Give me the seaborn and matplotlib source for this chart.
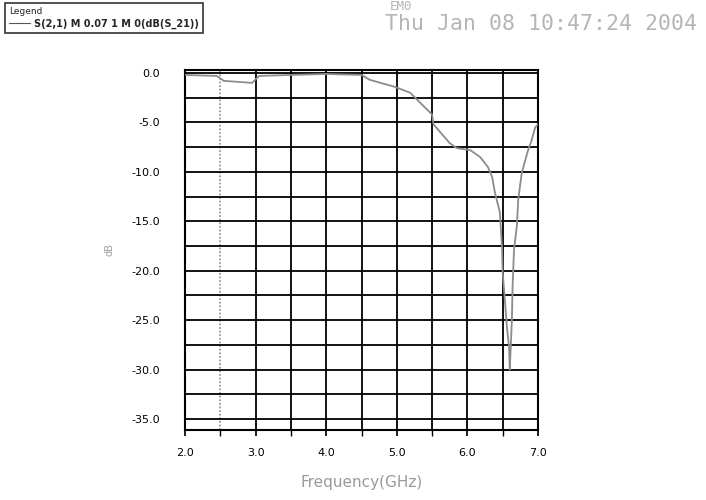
import numpy as np
import pandas as pd
import matplotlib
matplotlib.use("Agg")
import matplotlib.pyplot as plt
import seaborn as sns

# Data (frequency in GHz, magnitude in dB)
freq = [2.0, 2.45, 2.55, 2.95, 3.05, 3.5, 4.0, 4.5, 4.62, 4.97, 5.19, 5.33, 5.5, 5.52,
        5.75, 5.85, 6.04, 6.18, 6.29, 6.35, 6.39, 6.46, 6.49, 6.50, 6.53, 6.56, 6.59,
        6.60, 6.63, 6.64, 6.66, 6.70, 6.72, 6.77, 6.82, 6.86, 6.91, 6.96, 7.0]
s21_db = [-0.2, -0.3, -0.8, -1.0, -0.3, -0.2, -0.1, -0.2, -0.7, -1.4, -2.0, -3.0, -4.2, -5.2,
          -7.1, -7.6, -7.8, -8.5, -9.5, -10.5, -12.1, -14.1, -17.6, -20.2, -22.9, -25.7, -27.7,
          -30.0, -25.0, -21.6, -17.9, -15.5, -12.8, -10.1, -8.8, -7.8, -6.8, -5.5, -5.2]
x_ticks = [2.0, 3.0, 4.0, 5.0, 6.0, 7.0]
y_ticks = [0.0, -5.0, -10.0, -15.0, -20.0, -25.0, -30.0, -35.0]
series_name = "S(2,1) M 0.07 1 M 0(dB(S_21))"

df = pd.DataFrame({"Frequency": freq, "dB": s21_db, "trace": series_name})

sns.set_theme(style="white")
plt.rcParams["font.family"] = ["DejaVu Sans"]

fig = plt.figure(figsize=(7.06, 5.0), dpi=100)
ax = fig.add_axes([185 / 706, 70 / 500, 353 / 706, 360 / 500])

sns.lineplot(data=df, x="Frequency", y="dB", hue="trace", palette=["#8c8c8c"],
             linewidth=1.3, ax=ax, legend=False, zorder=3)

ax.set_xlim(2.0, 7.0)
ax.set_ylim(-36.1, 0.3)
ax.set_xticks(x_ticks)
ax.set_xticklabels([f"{v:.1f}" for v in x_ticks], fontsize=8, color="black")
ax.set_yticks(y_ticks)
ax.set_yticklabels([f"{v:.1f}" for v in y_ticks], fontsize=8, color="black")
ax.set_xticks(np.arange(2.5, 7.0, 1.0), minor=True)
ax.set_yticks(np.arange(-32.5, 0, 5.0), minor=True)
ax.grid(True, which="both", color="black", linewidth=1.3)
minor_x = ax.xaxis.get_minor_ticks()
minor_x[0].gridline.set_color("#9a9a9a")
minor_x[0].gridline.set_linestyle((0, (1, 1)))
ax.tick_params(axis="x", which="both", length=4, color="black", pad=9,
               direction="out", bottom=True)
ax.tick_params(axis="y", which="both", left=False, pad=12)
for sp in ax.spines.values():
    sp.set_color("black")
    sp.set_linewidth(1.5)

ax.set_xlabel("Frequency(GHz)", fontsize=11, color="#9a9a9a", labelpad=12)
ax.set_ylabel("dB", fontsize=7, color="#a0a0a0", labelpad=12)

# legend box at top-left of the figure
handle = plt.Line2D([], [], color="#555555", linewidth=0.8)
leg = fig.legend([handle], [series_name], loc="upper left",
                 bbox_to_anchor=(5 / 706, 1 - 3 / 500), title="Legend",
                 prop={"size": 7, "weight": "bold"}, title_fontsize=6.5,
                 alignment="left", frameon=True, fancybox=False, handlelength=2.2,
                 borderpad=0.4, labelspacing=0.3, handletextpad=0.4,
                 borderaxespad=0)
leg.get_frame().set_edgecolor("black")
leg.get_frame().set_linewidth(1.2)

fig.text(385 / 706, 1 - 30 / 500, "Thu Jan 08 10:47:24 2004", fontsize=15.5,
         family="DejaVu Sans Mono", color="#b5b5b5", ha="left", va="baseline")
fig.text(390 / 706, 1 - 10 / 500, "EM0", fontsize=9, family="DejaVu Sans Mono",
         color="#b5b5b5", ha="left", va="baseline")

fig.savefig("out.png", dpi=100, facecolor="white")
